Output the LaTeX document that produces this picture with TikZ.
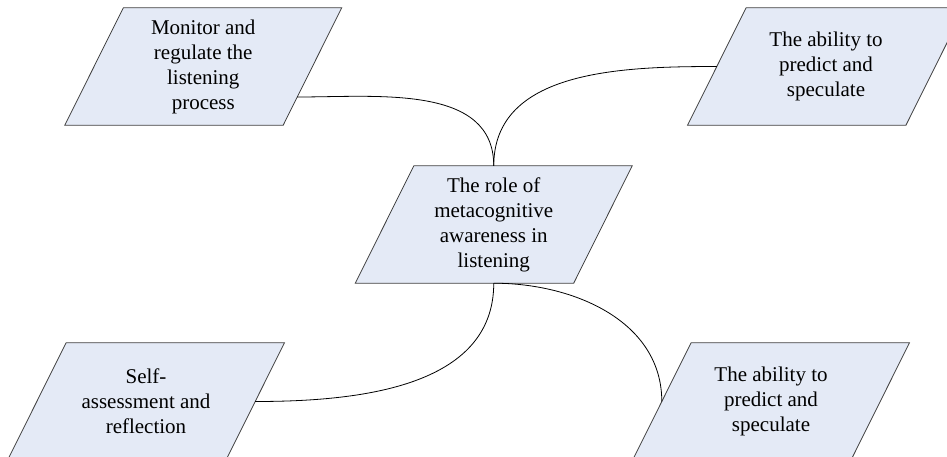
\documentclass[tikz,border=0pt]{standalone}
\usepackage{fontspec}
\setmainfont{Liberation Serif}
\usepackage{xcolor}
\usetikzlibrary{backgrounds}

\definecolor{boxfill}{RGB}{228,234,246}

\begin{document}
\begin{tikzpicture}[
  x=1pt, y=-1pt,
  box/.style={rectangle, minimum width=218pt, minimum height=117pt, inner sep=0pt,
    align=center, font=\fontsize{21}{25}\selectfont},
  boxline/.style={draw=black!75, fill=boxfill, line width=0.8pt},
  link/.style={line width=0.8pt}
]
\useasboundingbox (0,0) rectangle (947,456);

% the five boxes
\node[box] (role) at (493.75,224.5) {The role of\\metacognitive\\awareness in\\listening};
\node[box] (monitor) at (203.25,66.5) {Monitor and\\regulate the\\listening\\process};
\node[box] (predicta) at (826,66.5) {The ability to\\predict and\\speculate};
\node[box] (selfrefl) at (146,401.5) {Self-\\assessment and\\reflection};
\node[box] (predictb) at (771,401.5) {The ability to\\predict and\\speculate};

% slanted outlines behind the text
\begin{scope}[on background layer]
  \foreach \n in {role,monitor,predicta,selfrefl,predictb}
    \draw[boxline] ([xshift=29.25pt]\n.north west) -- ([xshift=29.25pt]\n.north east)
      -- ([xshift=-29.25pt]\n.south east) -- ([xshift=-29.25pt]\n.south west) -- cycle;
\end{scope}

% curved links
\draw[link] ([xshift=-15.25pt, yshift=-30.5pt]monitor.east) to[out=0, in=90] (role.north);
\draw[link] (role.north) to[out=90, in=180] (predicta.west);
\draw[link] (role.south) to[out=270, in=0] (selfrefl.east);
\draw[link] (role.south) to[out=0, in=90] (predictb.west);
\end{tikzpicture}
\end{document}
